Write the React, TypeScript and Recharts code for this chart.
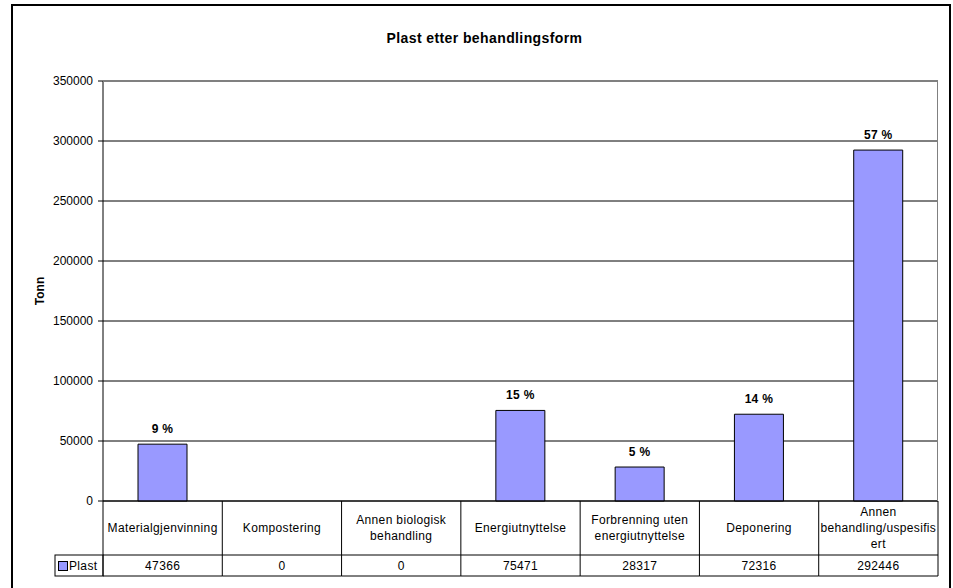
import React from "react";
import {
  BarChart,
  Bar,
  XAxis,
  YAxis,
  CartesianGrid,
  LabelList,
} from "recharts";

// categories as wrapped in the data table header
const categories = [
  "Materialgjenvinning",
  "Kompostering",
  "Annen biologisk\nbehandling",
  "Energiutnyttelse",
  "Forbrenning uten\nenergiutnyttelse",
  "Deponering",
  "Annen\nbehandling/uspesifis\nert",
];
const plastValues = [47366, 0, 0, 75471, 28317, 72316, 292446];
const percentLabels = ["9 %", "", "", "15 %", "5 %", "14 %", "57 %"];
const yTicks = [0, 50000, 100000, 150000, 200000, 250000, 300000, 350000];
const seriesName = "Plast";

const data = categories.map((category, i) => ({
  category,
  plast: plastValues[i],
  pct: percentLabels[i],
}));

const FONT = '"Liberation Sans", Arial, sans-serif';
const BAR_FILL = "#9999FF";
const PLOT_LEFT = 103;
const PLOT_RIGHT = 938;
const PLOT_TOP = 81;
const PLOT_BOTTOM = 501;
const CAT_W = (PLOT_RIGHT - PLOT_LEFT) / categories.length;
const LINE_H = 16;

function TableTick(props: any) {
  const { x, y, payload, index } = props;
  const left = x - CAT_W / 2;
  const right = x + CAT_W / 2;
  const headBottom = y + 54;
  const rowBottom = y + 75;
  const lines = String(payload.value).split("\n");
  const mid = y + 27;
  const startY = mid - ((lines.length - 1) * LINE_H) / 2;

  return (
    <g fontFamily={FONT} fontSize={12} letterSpacing={0.35} fill="#000">
      {index === 0 && (
        <g>
          <line x1={left} y1={y} x2={left} y2={rowBottom} stroke="#000" />
          <rect x={55} y={headBottom} width={left - 55} height={rowBottom - headBottom} fill="none" stroke="#000" />
          <rect x={58.5} y={561.5} width={9} height={9} fill={BAR_FILL} stroke="#000" />
          <text x={69} y={566} dominantBaseline="central" fill="#000">
            {seriesName}
          </text>
        </g>
      )}
      <line x1={right} y1={y} x2={right} y2={rowBottom} stroke="#000" />
      <line x1={left} y1={headBottom} x2={right} y2={headBottom} stroke="#000" />
      <line x1={left} y1={rowBottom} x2={right} y2={rowBottom} stroke="#000" />
      {lines.map((ln, i) => (
        <text
          key={i}
          x={x}
          y={startY + i * LINE_H}
          textAnchor="middle"
          dominantBaseline="central"
          fill="#000"
        >
          {ln}
        </text>
      ))}
      <text x={x} y={headBottom + 11} textAnchor="middle" dominantBaseline="central" fill="#000">
        {plastValues[index]}
      </text>
    </g>
  );
}

export default function App() {
  return (
    <div
      style={{
        position: "absolute",
        left: 0,
        top: 0,
        width: 953,
        height: 588,
        overflow: "hidden",
        background: "#fff",
        fontFamily: FONT,
      }}
    >
      <div
        style={{
          position: "absolute",
          left: 11,
          top: 4,
          width: 940,
          height: 620,
          border: "2px solid #000",
          boxSizing: "border-box",
        }}
      />
      <div
        style={{
          position: "absolute",
          left: 8,
          width: 953,
          top: 30,
          textAlign: "center",
          fontSize: 14,
          letterSpacing: 0.4,
          fontWeight: "bold",
        }}
      >
        Plast etter behandlingsform
      </div>
      <div
        style={{
          position: "absolute",
          left: 40,
          top: 291,
          fontSize: 12,
          fontWeight: "bold",
          transform: "translate(-50%, -50%) rotate(-90deg)",
        }}
      >
        Tonn
      </div>
      <div style={{ position: "absolute", left: 0, top: 0 }}>
        <BarChart
          width={953}
          height={588}
          data={data}
          margin={{ top: PLOT_TOP, right: 953 - PLOT_RIGHT, bottom: 0, left: 43 }}
          barSize={49}
        >
          <CartesianGrid vertical={false} stroke="#000" />
          <XAxis
            dataKey="category"
            height={588 - PLOT_BOTTOM}
            axisLine={{ stroke: "#000" }}
            tickLine={false}
            tickSize={0}
            tickMargin={0}
            interval={0}
            tick={<TableTick />}
          />
          <YAxis
            width={60}
            domain={[0, 350000]}
            ticks={yTicks}
            axisLine={{ stroke: "#000" }}
            tickLine={{ stroke: "#000" }}
            tickSize={5}
            tickMargin={5}
            tick={{ fontSize: 12, fill: "#000", fontFamily: FONT }}
          />
          <Bar dataKey="plast" fill={BAR_FILL} stroke="#000" strokeWidth={1} isAnimationActive={false}>
            <LabelList
              dataKey="pct"
              position="top"
              offset={11}
              style={{ fontSize: 12, fontWeight: "bold", fill: "#000", fontFamily: FONT, letterSpacing: 0.3 }}
            />
          </Bar>
        </BarChart>
      </div>
      <div
        style={{
          position: "absolute",
          left: PLOT_LEFT,
          top: PLOT_TOP,
          width: PLOT_RIGHT - PLOT_LEFT,
          height: PLOT_BOTTOM - PLOT_TOP,
          borderTop: "1px solid #808080",
          borderRight: "1px solid #808080",
          boxSizing: "border-box",
          pointerEvents: "none",
        }}
      />
    </div>
  );
}
